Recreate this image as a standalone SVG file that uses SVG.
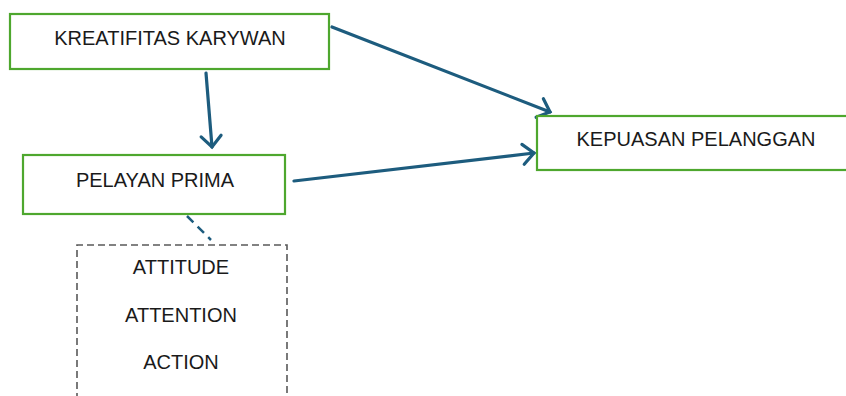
<svg xmlns="http://www.w3.org/2000/svg" width="846" height="396" viewBox="0 0 846 396">
<defs>
<style>
.box{fill:#fff;stroke:#4ea72e;stroke-width:2.2}
.lbl{font-family:"Liberation Sans",Arial,sans-serif;font-size:20px;fill:#1a1a1a;text-anchor:middle}
.arr{stroke:#1d5c7e;stroke-width:3.2;fill:none;stroke-linecap:round;marker-end:url(#ah)}
</style>
<marker id="ah" markerUnits="userSpaceOnUse" markerWidth="30" markerHeight="30" refX="15" refY="15" orient="auto" viewBox="0 0 30 30">
<path d="M4,5 L15,15 L4,25" fill="none" stroke="#1d5c7e" stroke-width="3.2" stroke-linecap="round" stroke-linejoin="miter"/>
</marker>
</defs>
<rect width="846" height="396" fill="#fff"/>
<g id="connectors">
<line class="arr" x1="206" y1="73" x2="212" y2="147"/>
<line class="arr" x1="332" y1="27" x2="550" y2="112"/>
<line class="arr" x1="294" y1="181" x2="534" y2="153"/>
<line x1="187" y1="216" x2="211" y2="240" stroke="#1d5c7e" stroke-width="2.5" stroke-dasharray="9 6"/>
</g>
<g id="kreatifitas">
<rect class="box" x="10" y="14" width="319" height="55"/>
<text class="lbl" x="170" y="45">KREATIFITAS KARYWAN</text>
</g>
<g id="pelayan">
<rect class="box" x="23" y="155" width="262" height="59"/>
<text class="lbl" x="155" y="187">PELAYAN PRIMA</text>
</g>
<g id="kepuasan">
<rect class="box" x="537" y="116" width="312" height="54"/>
<text class="lbl" x="696" y="146">KEPUASAN PELANGGAN</text>
</g>
<g id="dimensions">
<path d="M77,400 V245 H287 V400" fill="none" stroke="#595959" stroke-width="1.6" stroke-dasharray="7 4"/>
<text class="lbl" x="181" y="274">ATTITUDE</text>
<text class="lbl" x="181" y="322">ATTENTION</text>
<text class="lbl" x="181" y="369">ACTION</text>
</g>
</svg>
